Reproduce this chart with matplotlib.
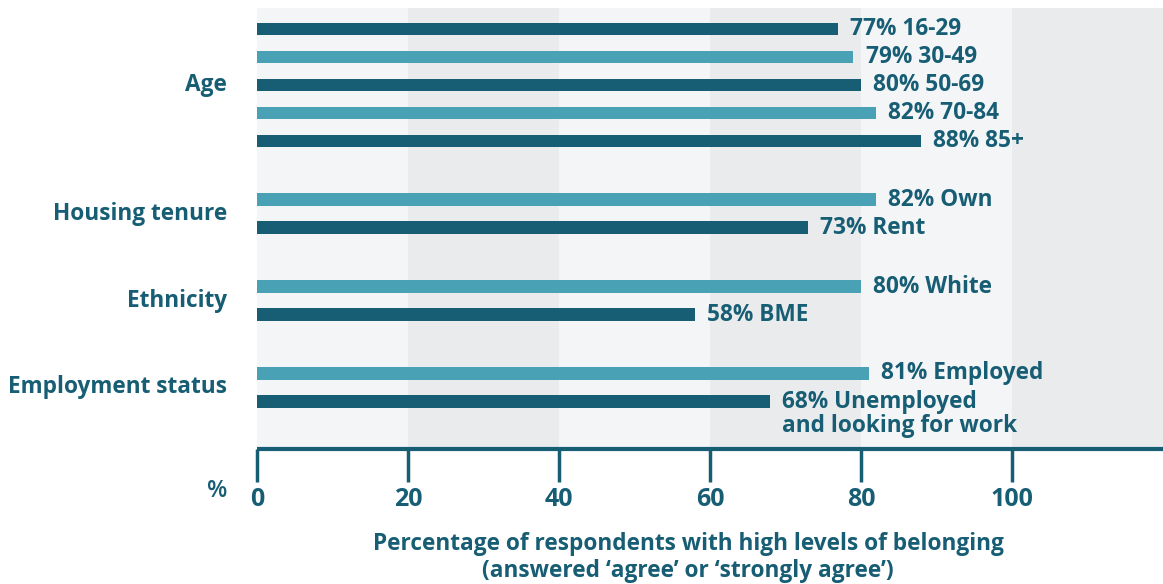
import numpy as np
import matplotlib.pyplot as plt

plt.rcParams['font.family'] = ['Open Sans', 'DejaVu Sans']

# data
groups = ['Age', 'Housing tenure', 'Ethnicity', 'Employment status']
group_labels = [
    ['16-29', '30-49', '50-69', '70-84', '85+'],
    ['Own', 'Rent'],
    ['White', 'BME'],
    ['Employed', 'Unemployed\nand looking for work'],
]
group_values = [
    [77, 79, 80, 82, 88],
    [82, 73],
    [80, 58],
    [81, 68],
]
xticks = [0, 20, 40, 60, 80, 100]

dark = '#175e75'
light = '#48a1b4'
txt = '#175e75'
fs = 16.3

fig = plt.figure(figsize=(11.63, 5.84), dpi=100)
ax = fig.add_axes([257 / 1163, 135 / 584, 1 - 257 / 1163, 441 / 584])

# background bands
for i, x0 in enumerate(range(0, 120, 20)):
    ax.axvspan(x0, x0 + 20, color='#f4f5f7' if i % 2 == 0 else '#eaebed', zorder=0, lw=0)

pos = 0.0
for g, labs, vals in zip(groups, group_labels, group_values):
    ys = []
    for j, (lab, v) in enumerate(zip(labs, vals)):
        c = [dark, light][j % 2] if g == 'Age' else [light, dark][j % 2]
        ax.barh(pos, v, height=0.46, color=c, zorder=2)
        two = '\n' in lab
        ax.text(v + 1.6, pos - 0.4 if two else pos, f'{v}% {lab}',
                va='top' if two else 'center', ha='left',
                fontsize=fs, fontweight='bold', color=txt, linespacing=1.0,
                zorder=3)
        ys.append(pos)
        pos += 1
    ax.text(-4, np.mean(ys), g, ha='right', va='center', fontsize=fs,
            fontweight='bold', color=txt)
    pos += 1.1

ax.set_xlim(0, 120)
ax.set_ylim(15.0, -0.75)
ax.set_yticks([])
ax.set_xticks(xticks)
ax.set_xticklabels([str(t) for t in xticks], fontsize=18, fontweight='bold', color=txt)
ax.tick_params(axis='x', length=24, width=2.5, color=dark, pad=3)
for s in ['top', 'right', 'left']:
    ax.spines[s].set_visible(False)
ax.spines['bottom'].set_color(dark)
ax.spines['bottom'].set_linewidth(3)
ax.spines['bottom'].set_capstyle('butt')

fig.text(217 / 1163, 1 - 491 / 584, '%', ha='center', va='center', fontsize=17,
         fontweight='semibold', color=txt)

fig.text(688 / 1163, 1 - 544 / 584, 'Percentage of respondents with high levels of belonging',
         ha='center', va='center', fontsize=fs, fontweight='bold', color=txt)
fig.text(688 / 1163, 1 - 571 / 584, '(answered \u2018agree\u2019 or \u2018strongly agree\u2019)',
         ha='center', va='center', fontsize=fs, fontweight='bold', color=txt)

fig.savefig('out.png', dpi=100)
